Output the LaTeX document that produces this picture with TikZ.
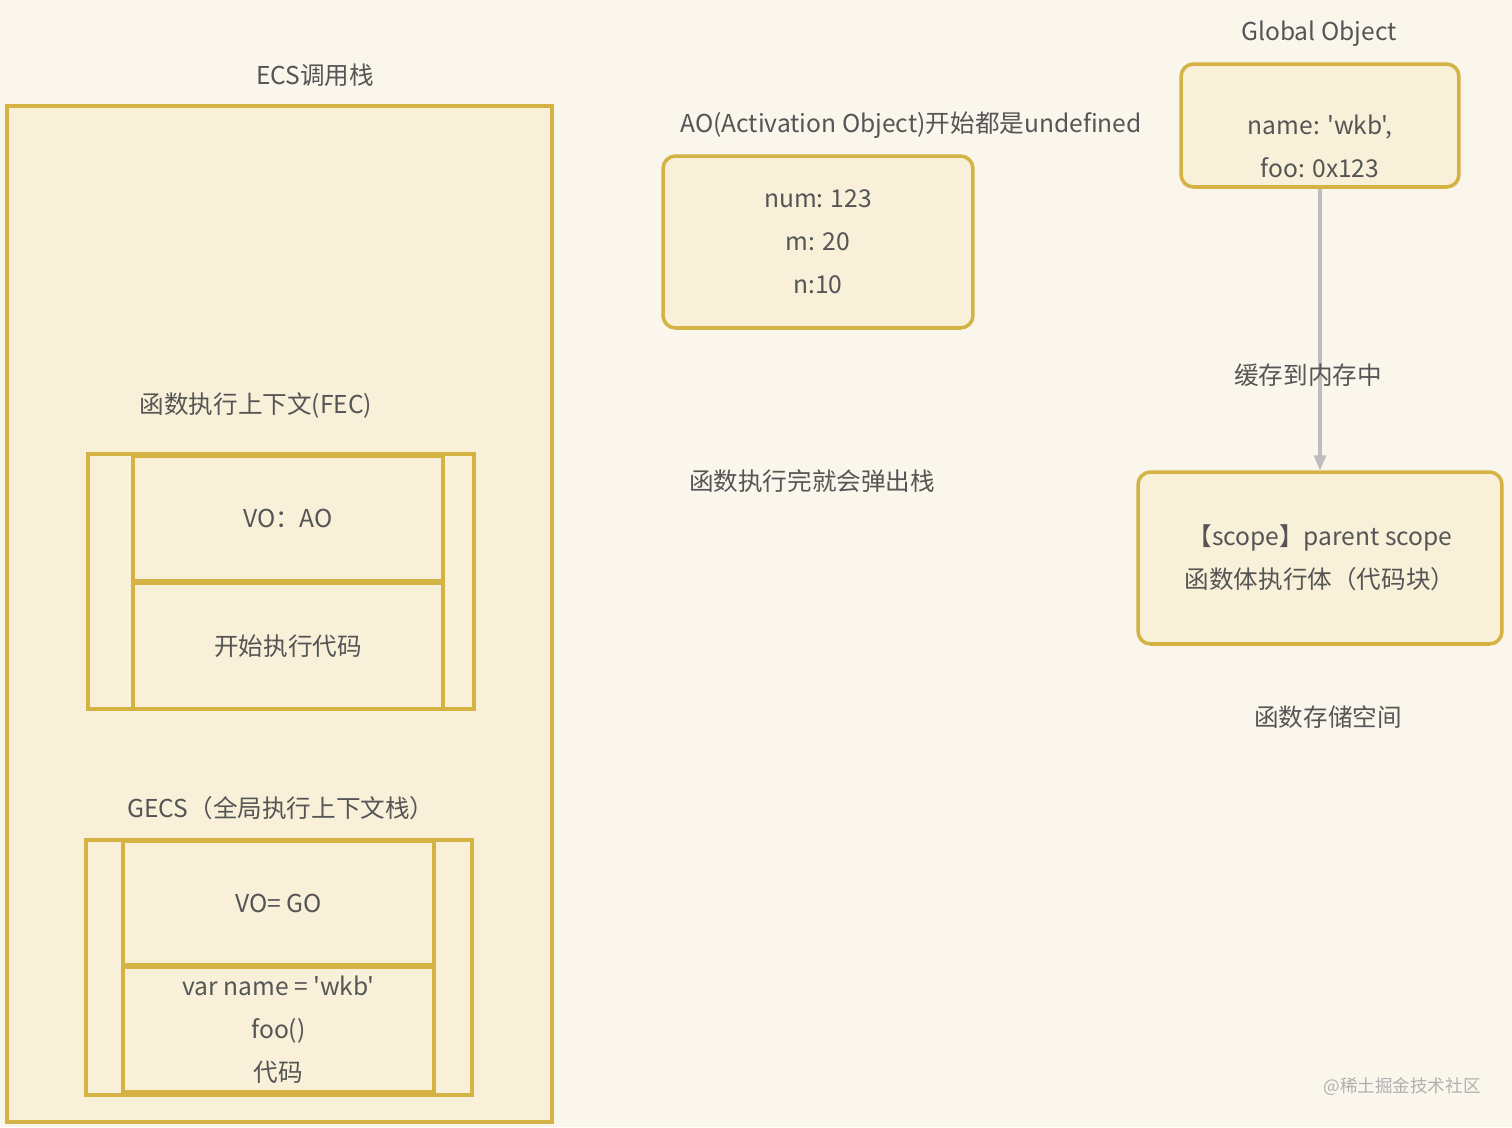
\documentclass[tikz,border=0pt]{standalone}
\usepackage{fontspec}
\setmainfont{Noto Sans CJK SC}[Ligatures=TeXOff]
\usetikzlibrary{arrows.meta}
\definecolor{PageBg}{HTML}{FAF6EC}
\definecolor{BoxFill}{HTML}{F8F0D9}
\definecolor{BoxLine}{HTML}{D4B244}
\definecolor{LabelInk}{HTML}{555555}
\definecolor{LinkGray}{HTML}{BDBDBD}
\definecolor{MarkGray}{HTML}{B0B0B0}
\tikzset{
  diagram/.style={x=0.02cm,y=-0.02cm,font=\fontsize{14}{24.5}\selectfont,text=LabelInk},
  caption/.style={inner sep=0pt,align=center},
  plainbox/.style={draw=BoxLine,line width=2pt,fill=BoxFill,inner sep=0pt,align=center},
  roundbox/.style={plainbox,rounded corners=0.25cm},
  link/.style={-{Triangle[length=3mm,width=2.4mm]},line width=1.8pt,draw=LinkGray},
}

\begin{document}
\begin{tikzpicture}[diagram]
  \fill[PageBg] (0,0) rectangle (1512,1127);
  \useasboundingbox (0,0) rectangle (1512,1127);

  \node[caption] (ecstitle) at (315,75) {ECS调用栈};
  \node[plainbox,minimum width=10.9cm,minimum height=20.32cm] (ecs) at (279.5,614) {};

  \node[caption] (fectitle) at (256,405) {函数执行上下文(FEC)};
  \node[plainbox,minimum width=7.72cm,minimum height=5.1cm] (fec) at (281,581.5) {};
  \node[plainbox,minimum width=6.2cm,minimum height=2.5cm] (fecvo) at (288,518.5) {VO：AO};
  \node[plainbox,minimum width=6.2cm,minimum height=2.52cm] (feccode) at (288,646) {开始执行代码};

  \node[caption] (gecstitle) at (281,808) {GECS（全局执行上下文栈）};
  \node[plainbox,minimum width=7.72cm,minimum height=5.1cm] (gecs) at (279,967.5) {};
  \node[plainbox,minimum width=6.22cm,minimum height=2.48cm] (gecsvo) at (278.5,903) {VO= GO};
  \node[plainbox,minimum width=6.22cm,minimum height=2.5cm] (gecscode) at (278.5,1029.5)
    {var name = 'wkb'\\foo()\\代码};

  \node[caption] (aotitle) at (911,125) {AO(Activation Object)开始都是undefined};
  \node[roundbox,minimum width=6.2cm,minimum height=3.44cm] (ao) at (818,242)
    {num: 123\\m: 20\\n:10};

  \node[caption] (pop) at (812,481) {函数执行完就会弹出栈};

  \node[caption] (gotitle) at (1319,34) {Global Object};
  \node[roundbox,minimum width=5.56cm,minimum height=2.46cm] (go) at (1320,125.5) {};
  \node[caption] (gotext) at (1320,146.5) {name: 'wkb',\\foo: 0x123};

  \node[roundbox,minimum width=7.28cm,minimum height=3.44cm] (scope) at (1320,558)
    {【scope】parent scope\\函数体执行体（代码块）};
  \node[caption] (store) at (1328,717) {函数存储空间};

  \draw[link] (go.south) -- (scope.north);
  \node[caption] (cache) at (1308,375) {缓存到内存中};

  \node[caption,font=\fontsize{10}{12}\selectfont,text=MarkGray] (mark) at (1402,1087) {@稀土掘金技术社区};
\end{tikzpicture}
\end{document}
